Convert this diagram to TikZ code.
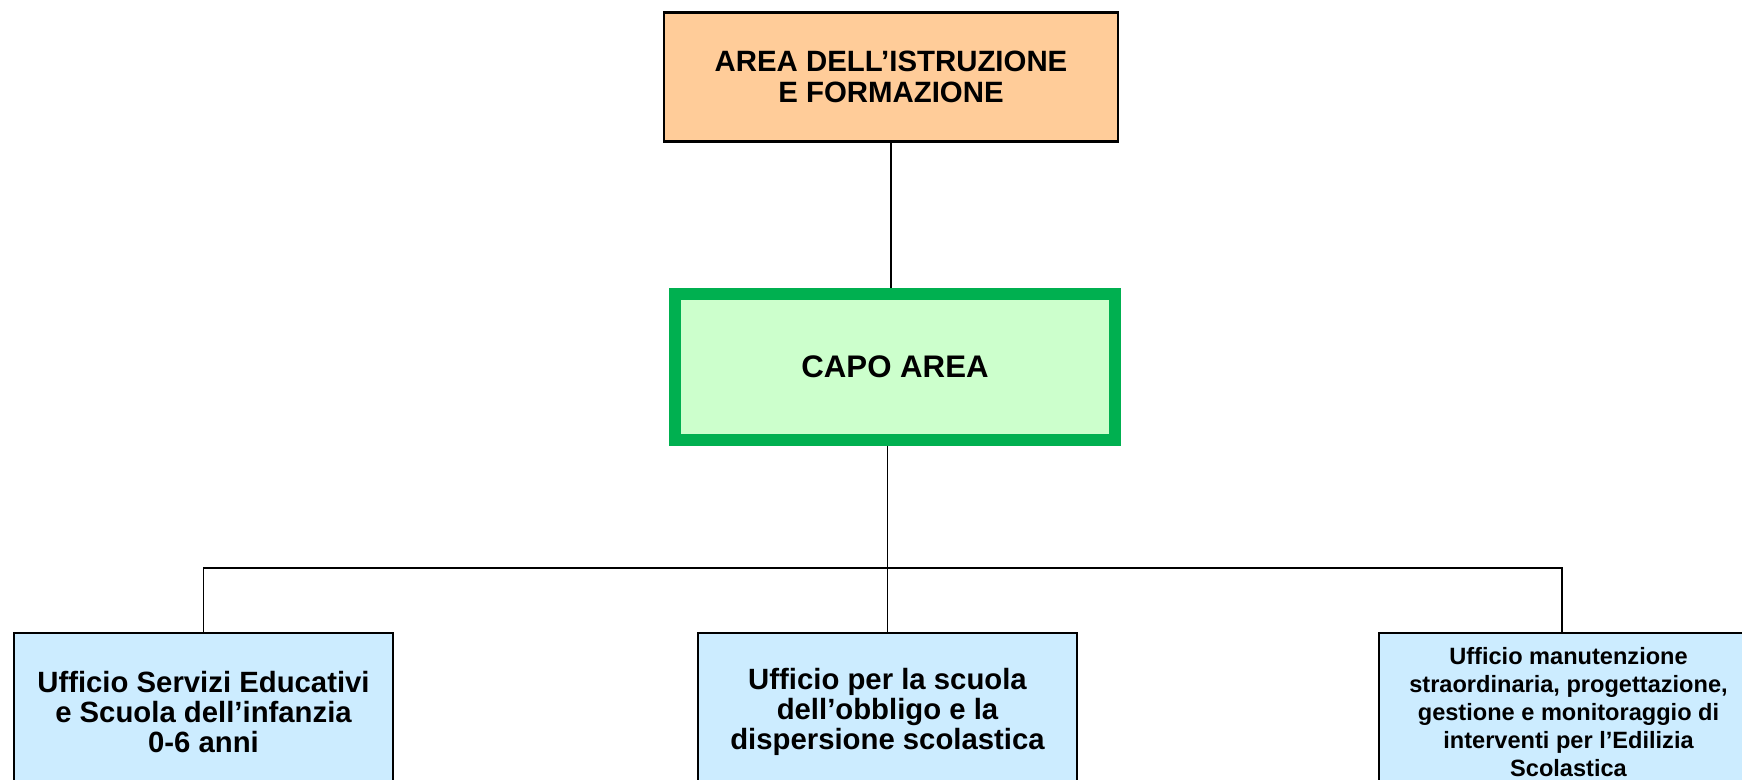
\documentclass[tikz,border=0pt]{standalone}
\usepackage{fontspec}
\setmainfont{Liberation Sans}
\usepackage{tikz}

\definecolor{areaorange}{HTML}{FFCC99}
\definecolor{capofill}{HTML}{CCFFCC}
\definecolor{capoline}{HTML}{00B050}
\definecolor{ufficioblue}{HTML}{CCECFF}

\tikzset{
  box/.style={draw, line width=0.6pt, align=center, font=\bfseries},
  ufficio/.style={box, fill=ufficioblue, minimum width=37.9mm, minimum height=15.8mm,
    font=\bfseries\fontsize{8.34pt}{8.6pt}\selectfont},
  link/.style={line width=0.4pt}
}

\begin{document}
\begin{tikzpicture}[x=0.1mm, y=-0.1mm]
\useasboundingbox (0,0) rectangle (1742,780);
\node (area) [box, fill=areaorange, minimum width=45.4mm, minimum height=12.9mm,
  font=\bfseries\fontsize{8.36pt}{8.8pt}\selectfont] at (891, 77) {AREA DELL’ISTRUZIONE\\E FORMAZIONE};
\node (capo) [box, fill=capofill, draw=capoline, line width=3.4pt, minimum width=44mm, minimum height=14.6mm,
  font=\bfseries\fontsize{8.88pt}{9pt}\selectfont] at (895, 367) {CAPO AREA};
\node (infanzia) [ufficio] at (203.5, 712) {Ufficio Servizi Educativi\\e Scuola dell’infanzia\\0-6 anni};
\node (obbligo) [ufficio] at (887.5, 712) {Ufficio per la scuola\\dell’obbligo e la\\dispersione scolastica};
\node (edilizia) [ufficio, font=\bfseries\fontsize{6.71pt}{7.95pt}\selectfont] at (1568.5, 712)
  {Ufficio manutenzione\\straordinaria, progettazione,\\gestione e monitoraggio di\\interventi per l’Edilizia\\Scolastica};
\coordinate (bus) at (887.5, 568);
\draw [link] (area.south) -- (area.south |- capo.north);
\draw [link] (obbligo.north |- capo.south) -- (obbligo.north);
\draw [link] (infanzia.north) |- (bus) -| ([xshift=-0.65mm]edilizia.north);
\end{tikzpicture}
\end{document}
